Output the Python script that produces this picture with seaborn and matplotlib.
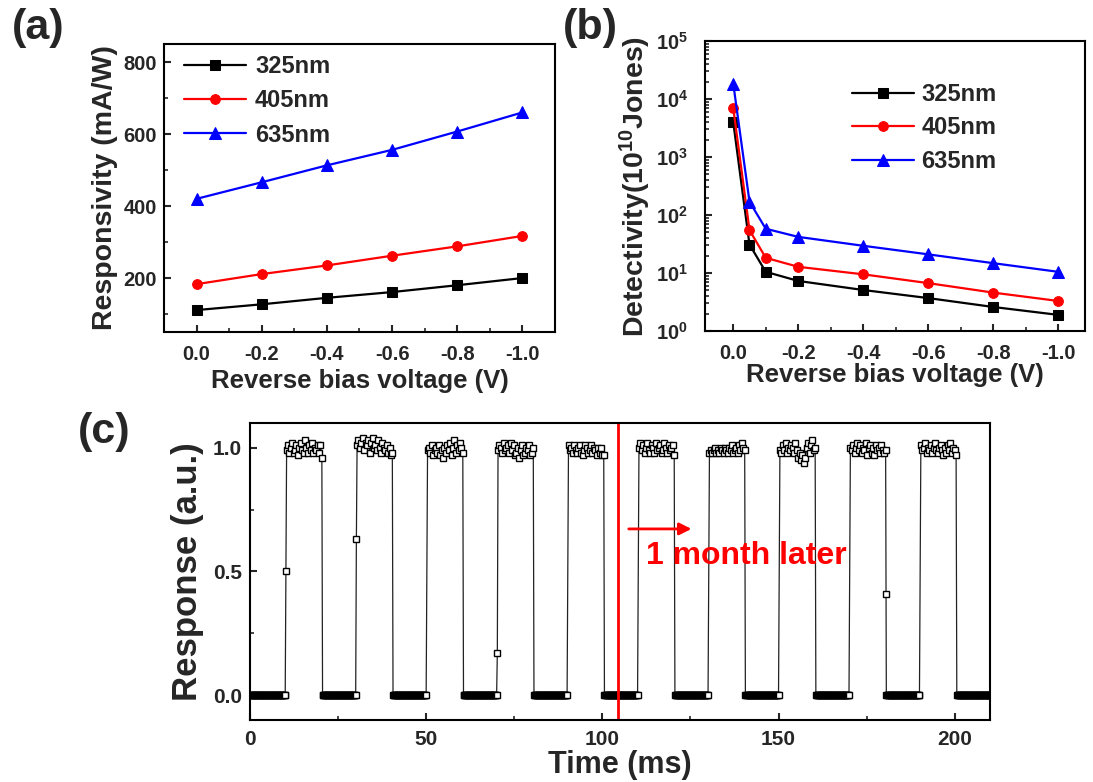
import numpy as np
import pandas as pd
import matplotlib
matplotlib.use("Agg")
import matplotlib.pyplot as plt
from matplotlib.ticker import MultipleLocator, LogLocator, NullFormatter
import seaborn as sns

# ---------------- data ----------------
# (a) responsivity vs reverse bias
volt_a = [0.0, -0.2, -0.4, -0.6, -0.8, -1.0]
resp_325 = [111, 127, 145, 161, 180, 200]
resp_405 = [183, 211, 235, 262, 288, 317]
resp_635 = [420, 466, 513, 556, 607, 660]

# (b) detectivity vs reverse bias (units of 1e10 Jones)
volt_b = [0.0, -0.05, -0.1, -0.2, -0.4, -0.6, -0.8, -1.0]
det_325 = [4000, 31, 10.5, 7.3, 5.1, 3.7, 2.6, 1.9]
det_405 = [7000, 55, 18.3, 12.8, 9.5, 6.7, 4.6, 3.3]
det_635 = [18500, 170, 58, 42, 29.5, 21, 14.8, 10.5]

labels_wl = ["325nm", "405nm", "635nm"]
colors_wl = ["#000000", "#ff0000", "#0000ff"]
markers_wl = ["s", "o", "^"]

x_ticks_ab = [0.0, -0.2, -0.4, -0.6, -0.8, -1.0]
x_ticklabels_ab = ["0.0", "-0.2", "-0.4", "-0.6", "-0.8", "-1.0"]
y_ticks_a = [200, 400, 600, 800]
y_ticklabels_a = ["200", "400", "600", "800"]

# (c) switching response: pulses of light, 20 ms period
pulse_rise_ms = [10, 30, 50, 70, 90, 110, 130, 150, 170, 190]
plateau_values = [
    [0.99, 1.01, 0.98, 1.00, 1.02, 0.98, 0.99, 1.01, 0.97, 1.00, 1.02, 0.99, 0.98,
     1.03, 1.00, 0.98, 1.01, 0.99, 1.02, 0.98, 1.00, 0.99, 1.01, 0.98, 1.01, 0.96],
    [1.01, 1.03, 1.00, 1.02, 1.04, 0.99, 1.02, 1.01, 1.03, 0.98, 1.02, 1.04, 1.00,
     1.01, 0.99, 1.03, 1.00, 0.98, 1.02, 1.00, 0.99, 1.01, 0.98, 1.00, 0.97, 0.98],
    [0.99, 1.00, 0.98, 1.01, 0.97, 0.99, 1.00, 0.98, 1.01, 0.97, 0.99, 0.96, 1.00,
     0.98, 1.01, 0.99, 1.02, 0.97, 1.00, 1.03, 0.98, 1.01, 0.99, 1.02, 1.00, 0.98],
    [0.99, 1.01, 1.00, 0.98, 1.02, 0.99, 1.00, 1.01, 0.98, 1.02, 0.99, 1.01, 0.97,
     0.98, 1.00, 0.96, 0.99, 1.01, 0.97, 0.98, 1.00, 0.99, 1.01, 0.97, 0.98, 1.00],
    [1.01, 0.99, 1.00, 0.98, 1.01, 0.99, 0.98, 1.00, 1.01, 0.98, 0.97, 0.99, 1.01,
     1.00, 0.98, 0.99, 1.01, 0.98, 1.00, 0.99, 0.97, 1.00, 0.98, 1.00, 0.97, 0.97],
    [1.00, 1.02, 0.99, 1.01, 0.98, 1.00, 1.02, 0.99, 0.98, 1.01, 1.00, 0.98, 1.02,
     0.99, 1.00, 1.01, 0.98, 0.99, 1.02, 1.00, 0.98, 1.01, 0.99, 1.00, 1.01, 0.97],
    [0.98, 0.99, 0.98, 0.99, 1.00, 0.98, 0.99, 0.98, 1.00, 0.99, 0.98, 1.00, 0.99,
     0.98, 1.00, 0.99, 1.01, 0.98, 0.99, 1.00, 0.98, 1.01, 0.99, 1.02, 1.00, 0.99],
    [0.99, 0.98, 1.01, 0.99, 1.02, 0.98, 1.00, 0.99, 1.01, 1.00, 0.98, 1.02, 0.99,
     0.96, 0.98, 0.95, 0.97, 0.94, 0.96, 1.00, 1.02, 0.98, 1.01, 1.03, 0.99, 1.00],
    [1.00, 0.99, 1.01, 0.98, 1.00, 1.02, 0.99, 1.01, 0.98, 1.00, 0.99, 1.02, 0.97,
     1.00, 1.01, 0.98, 1.00, 0.97, 1.01, 0.99, 1.00, 0.98, 1.01, 0.99, 0.98, 0.99],
    [1.01, 0.99, 1.00, 1.02, 0.98, 1.00, 0.99, 1.01, 0.98, 1.00, 1.02, 0.99, 0.98,
     1.00, 1.01, 0.99, 0.97, 1.00, 0.98, 1.01, 0.99, 1.02, 0.98, 1.00, 0.99, 0.97],
]
rise_points = {0: 0.50, 1: 0.63, 3: 0.17}   # intermediate points on rising edges
fall_points = {8: 0.41}                     # intermediate points on falling edges
off_level = 0.0
t_end_ms = 211.0
month_later_ms = 104.5

x_ticks_c = [0, 50, 100, 150, 200]
x_ticklabels_c = ["0", "50", "100", "150", "200"]
y_ticks_c = [0.0, 0.5, 1.0]
y_ticklabels_c = ["0.0", "0.5", "1.0"]

# ---------------- style ----------------
sns.set_style("ticks")
plt.rcParams["font.family"] = ["Liberation Sans", "DejaVu Sans"]
plt.rcParams["font.weight"] = "bold"
plt.rcParams["axes.labelweight"] = "bold"
plt.rcParams["axes.unicode_minus"] = False
plt.rcParams["mathtext.default"] = "regular"
plt.rcParams["axes.linewidth"] = 1.5
plt.rcParams["axes.edgecolor"] = "black"

fig = plt.figure(figsize=(10.93, 7.82), dpi=100)
axA = fig.add_axes([0.1500, 0.5754, 0.3578, 0.3683])
axB = fig.add_axes([0.6450, 0.5767, 0.3477, 0.3708])
axC = fig.add_axes([0.2287, 0.0793, 0.6770, 0.3798])

msizes = {"s": 6.5, "o": 7, "^": 8.5}

# ---------------- (a) ----------------
for lab, col, mk, vals in zip(labels_wl, colors_wl, markers_wl, [resp_325, resp_405, resp_635]):
    sns.lineplot(x=volt_a, y=vals, ax=axA, color=col, marker=mk, markersize=msizes[mk],
                 markeredgecolor=col, markerfacecolor=col, linewidth=1.6, label=lab,
                 estimator=None, errorbar=None, sort=False)
axA.set_xlim(0.1, -1.1)
axA.set_ylim(50, 850)
axA.set_xticks(x_ticks_ab)
axA.set_xticklabels(x_ticklabels_ab, fontsize=14.5, fontweight="bold")
axA.set_yticks(y_ticks_a)
axA.set_yticklabels(y_ticklabels_a, fontsize=14.5, fontweight="bold")
axA.xaxis.set_minor_locator(MultipleLocator(0.1))
axA.yaxis.set_minor_locator(MultipleLocator(100))
axA.set_xlabel("Reverse bias voltage (V)", fontsize=18.5, fontweight="bold", labelpad=4)
axA.set_ylabel("Responsivity (mA/W)", fontsize=20.5, fontweight="bold", labelpad=4)
axA.legend(loc="upper left", bbox_to_anchor=(184 / 1093, 1 - 55 / 782),
           bbox_transform=fig.transFigure, frameon=False,
           prop={"weight": "bold", "size": 17}, handlelength=2.63, handletextpad=0.38,
           labelspacing=0.48, borderpad=0, borderaxespad=0, numpoints=1)

# ---------------- (b) ----------------
for lab, col, mk, vals in zip(labels_wl, colors_wl, markers_wl, [det_325, det_405, det_635]):
    sns.lineplot(x=volt_b, y=vals, ax=axB, color=col, marker=mk, markersize=msizes[mk],
                 markeredgecolor=col, markerfacecolor=col, linewidth=1.6, label=lab,
                 estimator=None, errorbar=None, sort=False)
axB.set_yscale("log")
axB.set_xlim(0.087, -1.083)
axB.set_ylim(1, 1e5)
axB.set_xticks(x_ticks_ab)
axB.set_xticklabels(x_ticklabels_ab, fontsize=14.5, fontweight="bold")
axB.xaxis.set_minor_locator(MultipleLocator(0.1))
axB.yaxis.set_major_locator(LogLocator(base=10, numticks=10))
axB.yaxis.set_minor_locator(LogLocator(base=10, subs=np.arange(2, 10), numticks=20))
axB.yaxis.set_minor_formatter(NullFormatter())
axB.set_xlabel("Reverse bias voltage (V)", fontsize=18.5, fontweight="bold", labelpad=0)
axB.set_ylabel("Detectivity(10$^{10}$Jones)", fontsize=20.5, fontweight="bold", labelpad=2)
axB.legend(loc="upper left", bbox_to_anchor=(852 / 1093, 1 - 83 / 782),
           bbox_transform=fig.transFigure, frameon=False,
           prop={"weight": "bold", "size": 17}, handlelength=2.63, handletextpad=0.3,
           labelspacing=0.44, borderpad=0, borderaxespad=0, numpoints=1)

for ax in (axA, axB):
    ax.tick_params(which="major", direction="in", length=5, width=1.5, labelsize=14.5, pad=5)
    ax.tick_params(which="minor", direction="in", length=3, width=1.2)
    ax.tick_params(axis="both", which="both", top=False, right=False)
    ax.tick_params(axis="x", which="major", pad=9)
axB.tick_params(axis="y", which="major", labelsize=14.5, pad=12)
for lbl in axB.get_yticklabels():
    lbl.set_fontweight("bold")

# ---------------- (c) ----------------
t_vals, r_vals = [], []
off_start = 0.0
for k, (t_r, plat) in enumerate(zip(pulse_rise_ms, plateau_values)):
    off_t = np.arange(off_start, t_r + 1e-9, 0.2)
    t_vals.extend(off_t)
    r_vals.extend([off_level] * len(off_t))
    if k in rise_points:
        t_vals.append(t_r + 0.2)
        r_vals.append(rise_points[k])
    plat_t = t_r + 0.4 + 0.4 * np.arange(len(plat))
    t_vals.extend(plat_t)
    r_vals.extend(plat)
    if k in fall_points:
        t_vals.append(t_r + 10.5)
        r_vals.append(fall_points[k])
    off_start = t_r + 10.6
off_t = np.arange(off_start, t_end_ms, 0.2)
t_vals.extend(off_t)
r_vals.extend([off_level] * len(off_t))

sns.lineplot(x=np.array(t_vals), y=np.array(r_vals), ax=axC, color="#222222", linewidth=0.9,
             marker="s", markersize=4.6, markerfacecolor="white", markeredgecolor="black",
             markeredgewidth=1.0, estimator=None, errorbar=None, sort=False)
axC.axvline(month_later_ms, color="#ff0000", linewidth=2)
axC.annotate("", xy=(125.3, 0.672), xytext=(107.5, 0.672),
             arrowprops=dict(arrowstyle="-|>", color="#ff0000", lw=2, mutation_scale=18,
                             shrinkA=0, shrinkB=0))
axC.text(112.3, 0.53, "1 month later", color="#ff0000", fontsize=23, fontweight="bold",
         va="baseline", ha="left")
axC.set_xlim(0, 210)
axC.set_ylim(-0.1, 1.1)
axC.set_xticks(x_ticks_c)
axC.set_xticklabels(x_ticklabels_c, fontsize=15, fontweight="bold")
axC.set_yticks(y_ticks_c)
axC.set_yticklabels(y_ticklabels_c, fontsize=15, fontweight="bold")
axC.xaxis.set_minor_locator(MultipleLocator(25))
axC.yaxis.set_minor_locator(MultipleLocator(0.25))
axC.tick_params(which="major", direction="in", length=5, width=1.5, pad=6)
axC.tick_params(which="minor", direction="in", length=3, width=1.2)
axC.tick_params(axis="both", which="both", top=False, right=False)
axC.tick_params(axis="x", which="major", pad=7)
axC.set_xlabel("Time (ms)", fontsize=22, fontweight="bold", labelpad=1)
axC.set_ylabel("Response (a.u.)", fontsize=25, fontweight="bold", labelpad=6)

# panel labels
fig.text(12 / 1093, 1 - 28 / 782, "(a)", fontsize=31, fontweight="bold", va="center", ha="left")
fig.text(563 / 1093, 1 - 28 / 782, "(b)", fontsize=31, fontweight="bold", va="center", ha="left")
fig.text(78 / 1093, 1 - 432 / 782, "(c)", fontsize=31, fontweight="bold", va="center", ha="left")

fig.savefig("out.png", dpi=100)
